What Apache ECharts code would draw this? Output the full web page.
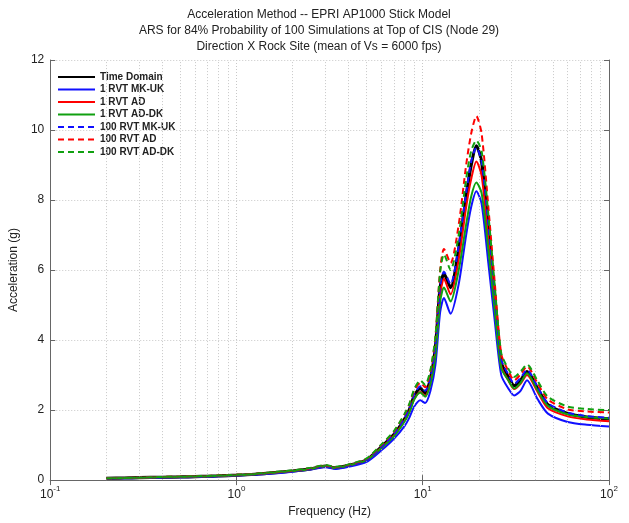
<!DOCTYPE html>
<html>
<head>
<meta charset="utf-8">
<script src="https://cdn.jsdelivr.net/npm/echarts@6/dist/echarts.min.js"></script>
<style>html,body{margin:0;padding:0;background:#fff;}#c{width:629px;height:523px;}</style>
</head>
<body>
<div id="c"></div>
<script>
var freq = [0.2,0.25,0.3,0.4,0.5,0.6,0.7,0.8,1.0,1.2,1.5,2.0,2.5,3.0,3.4,4.0,5.0,6.0,7.0,8.0,8.5,9.0,9.7,10.3,11.0,11.7,12.4,13.0,14.1,15.6,17.1,18.2,19.4,20.7,22.5,24.3,26.4,28.8,31.0,33.5,36.3,41.5,47.0,60.0,76.0,100.0];

var timeDomain = [0.05,0.06,0.07,0.08,0.09,0.10,0.11,0.12,0.14,0.16,0.20,0.26,0.32,0.40,0.35,0.42,0.58,0.95,1.30,1.75,2.03,2.40,2.62,2.48,2.90,3.80,5.50,5.90,5.50,6.60,8.10,9.00,9.55,9.10,7.20,5.30,3.35,2.95,2.70,2.85,3.10,2.60,2.15,1.90,1.80,1.75];
var rvt1MKUK = [0.04,0.05,0.06,0.07,0.08,0.09,0.10,0.11,0.13,0.15,0.18,0.24,0.30,0.37,0.32,0.38,0.52,0.85,1.18,1.55,1.80,2.10,2.28,2.20,2.55,3.30,4.80,5.20,4.75,5.60,7.00,7.80,8.25,7.90,6.20,4.60,3.00,2.62,2.42,2.55,2.85,2.30,1.90,1.66,1.58,1.53];
var rvt1AD = [0.05,0.06,0.07,0.08,0.09,0.10,0.11,0.12,0.14,0.16,0.20,0.26,0.32,0.40,0.35,0.42,0.58,0.93,1.27,1.70,1.98,2.32,2.52,2.40,2.80,3.65,5.30,5.75,5.30,6.30,7.80,8.60,9.10,8.70,6.90,5.10,3.25,2.85,2.60,2.75,3.00,2.50,2.05,1.82,1.73,1.68];
var rvt1ADDK = [0.05,0.06,0.07,0.08,0.09,0.10,0.11,0.12,0.14,0.16,0.20,0.26,0.32,0.40,0.35,0.42,0.57,0.92,1.25,1.68,1.95,2.30,2.50,2.38,2.75,3.55,5.10,5.50,5.10,6.00,7.30,8.10,8.50,8.20,6.60,4.90,3.20,2.85,2.62,2.78,3.05,2.55,2.12,1.88,1.80,1.76];
var rvt100MKUK = [0.05,0.06,0.07,0.08,0.09,0.10,0.11,0.12,0.14,0.16,0.20,0.26,0.32,0.40,0.35,0.42,0.58,0.95,1.32,1.78,2.08,2.45,2.68,2.55,2.95,3.85,5.55,5.95,5.60,6.70,8.20,9.10,9.50,9.10,7.30,5.40,3.45,3.02,2.75,2.92,3.15,2.65,2.20,1.93,1.83,1.78];
var rvt100AD = [0.05,0.06,0.07,0.09,0.10,0.11,0.12,0.13,0.15,0.17,0.21,0.27,0.34,0.42,0.37,0.44,0.61,1.00,1.38,1.88,2.18,2.55,2.78,2.65,3.10,4.10,6.00,6.60,6.20,7.30,9.00,9.90,10.40,9.90,7.80,5.70,3.60,3.12,2.85,3.02,3.25,2.75,2.30,2.02,1.96,1.93];
var rvt100ADDK = [0.05,0.06,0.07,0.09,0.10,0.11,0.12,0.13,0.15,0.17,0.22,0.28,0.35,0.43,0.38,0.45,0.62,1.02,1.40,1.90,2.20,2.60,2.85,2.72,3.15,4.10,5.95,6.45,6.00,7.00,8.60,9.40,9.70,9.40,7.60,5.60,3.62,3.18,2.95,3.10,3.30,2.82,2.38,2.10,2.03,2.00];

var seriesNames = ['Time Domain','1 RVT MK-UK','1 RVT AD','1 RVT AD-DK','100 RVT MK-UK','100 RVT AD','100 RVT AD-DK'];
var minorGridFreqs = [0.2,0.3,0.4,0.5,0.6,0.7,0.8,0.9,2,3,4,5,6,7,8,9,20,30,40,50,60,70,80,90];
var titleLines = ['Acceleration Method -- EPRI AP1000 Stick Model','ARS for 84% Probability of 100 Simulations at Top of CIS (Node 29)','Direction X Rock Site (mean of Vs = 6000 fps)'];

var FONT = '"Liberation Sans", Arial, sans-serif';
function pairs(v){ return freq.map(function(f,i){ return [f, v[i]]; }); }

var styles = [
  {data: timeDomain, color:'#000000', type:'solid', width:3.2},
  {data: rvt1MKUK, color:'#1010ff', type:'solid', width:2},
  {data: rvt1AD, color:'#ff0000', type:'solid', width:2},
  {data: rvt1ADDK, color:'#10a010', type:'solid', width:2},
  {data: rvt100MKUK, color:'#1010ff', type:[6,4], width:2},
  {data: rvt100AD, color:'#ff0000', type:[6,4], width:2},
  {data: rvt100ADDK, color:'#10a010', type:[6,4], width:2}
];

var series = [{
  name: '_grid', type: 'line', data: [], silent: true, z: 1,
  markLine: {
    silent: true, symbol: ['none','none'], label: {show:false},
    lineStyle: {type: [1,2], color:'#c8c8c8', width:1},
    emphasis: {disabled: true},
    animation: false,
    data: minorGridFreqs.map(function(f){ return {xAxis: f}; })
  }
}];
styles.forEach(function(s,i){
  series.push({
    name: seriesNames[i], type: 'line', data: pairs(s.data), showSymbol: false, symbol: 'none',
    smooth: 0.25, z: 3 + i,
    lineStyle: {color: s.color, type: s.type, width: s.width},
    itemStyle: {color: s.color},
    emphasis: {disabled: true}
  });
});

function supLabel(v){
  var e = Math.round(Math.log(v)/Math.LN10);
  return '{b|10}{s|' + e + '}';
}

var chart = echarts.init(document.getElementById('c'), null, {renderer:'canvas'});
chart.setOption({
  animation: false,
  backgroundColor: '#ffffff',
  textStyle: {fontFamily: FONT},
  graphic: [{
    type: 'text', x: 319, y: 7,
    style: {text: titleLines.join('\n'), font: '12px ' + FONT, fill: '#222', align: 'center', lineHeight: 16}
  }],
  legend: {
    data: seriesNames, orient: 'vertical', left: 52, top: 67,
    itemWidth: 37, itemHeight: 10, itemGap: 2.5,
    itemStyle: {opacity: 0},
    textStyle: {fontSize: 10, fontWeight: 'bold', color: '#222', fontFamily: FONT},
    selectedMode: false
  },
  grid: {left: 43, right: 20, top: 60, bottom: 38},
  xAxis: [{
    type: 'log', logBase: 10, min: 0.1, max: 100,
    name: 'Frequency (Hz)', nameLocation: 'middle', nameGap: 22,
    nameTextStyle: {fontSize: 12, color: '#222', fontFamily: FONT},
    axisLine: {lineStyle: {color: '#666'}},
    axisTick: {inside: true, length: 5, lineStyle: {color:'#666'}},
    axisLabel: {formatter: supLabel, margin: 5, color: '#222',
      rich: {b: {fontSize: 12, color:'#222', verticalAlign:'bottom', lineHeight: 16},
             s: {fontSize: 8, color:'#222', verticalAlign:'top', lineHeight: 16}}},
    splitLine: {show: true, lineStyle: {type: [1,2], color: '#c8c8c8'}}
  },{
    type: 'log', logBase: 10, min: 0.1, max: 100, position: 'top',
    axisLine: {lineStyle: {color: '#666'}},
    axisTick: {inside: true, length: 5, lineStyle: {color:'#666'}},
    axisLabel: {show: false}, splitLine: {show: false}
  }],
  yAxis: [{
    type: 'value', min: 0, max: 12, interval: 2,
    name: 'Acceleration (g)', nameLocation: 'middle', nameGap: 23,
    nameTextStyle: {fontSize: 12, color: '#222', fontFamily: FONT},
    axisLine: {show: true, lineStyle: {color: '#666'}},
    axisTick: {show: true, inside: true, length: 5, lineStyle: {color:'#666'}},
    axisLabel: {fontSize: 12, color: '#222', margin: 6},
    splitLine: {show: true, lineStyle: {type: [1,2], color: '#c8c8c8'}}
  },{
    type: 'value', min: 0, max: 12, interval: 2, position: 'right',
    axisLine: {show: true, lineStyle: {color: '#666'}},
    axisTick: {show: true, inside: true, length: 5, lineStyle: {color:'#666'}},
    axisLabel: {show: false}, splitLine: {show: false}
  }],
  series: series
});
</script>
</body>
</html>
